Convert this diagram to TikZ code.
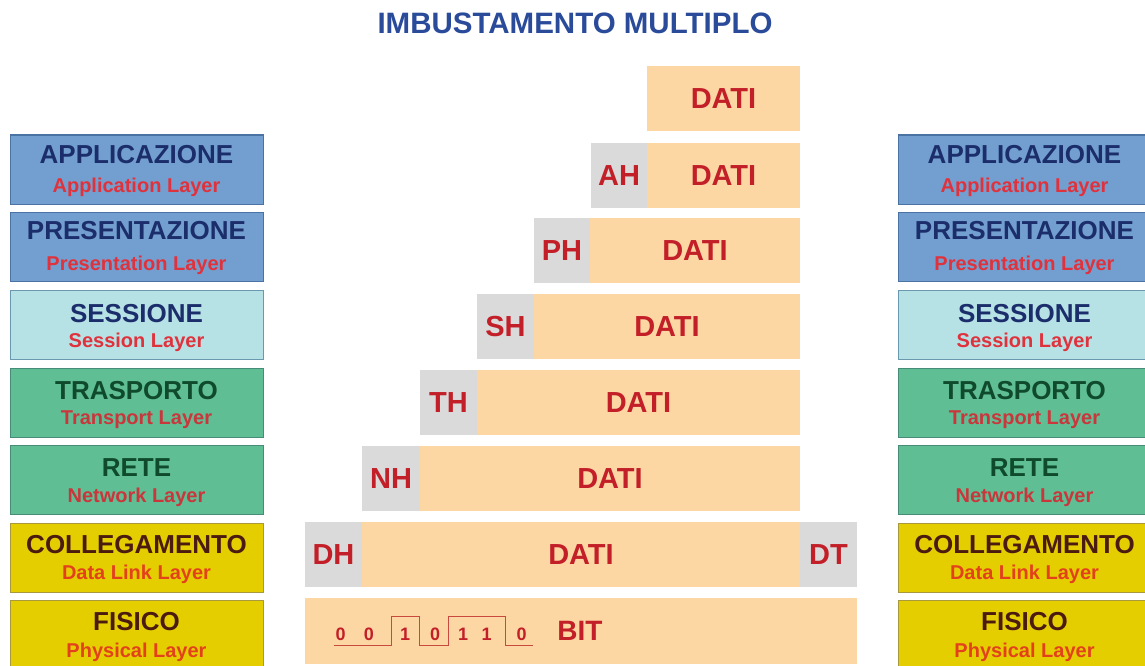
\documentclass[tikz,border=0pt]{standalone}
\usepackage{fontspec}
\setmainfont{Liberation Sans}
\newcommand\myfs[1]{\fontsize{#1}{#1}\selectfont\bfseries}
\definecolor{blueF}{HTML}{729FCF}
\definecolor{blueD}{HTML}{4A72A2}
\definecolor{cyanF}{HTML}{B6E1E5}
\definecolor{cyanD}{HTML}{6A98AE}
\definecolor{greenF}{HTML}{5FBE94}
\definecolor{greenD}{HTML}{468C78}
\definecolor{yelF}{HTML}{E5CE00}
\definecolor{yelD}{HTML}{A8993E}
\definecolor{navy}{HTML}{1B2E6B}
\definecolor{dgreen}{HTML}{0F4A2C}
\definecolor{brown}{HTML}{4A1B0E}
\definecolor{subred}{HTML}{E0323C}
\definecolor{subred2}{HTML}{C9363C}
\definecolor{suborg}{HTML}{E2411C}
\definecolor{peach}{HTML}{FDD7A3}
\definecolor{hgray}{HTML}{DADADA}
\definecolor{dred}{HTML}{C31F28}
\definecolor{wave}{HTML}{C84A3E}
\definecolor{titleblue}{HTML}{2A4A9A}
\tikzset{
  laybox/.style={draw=#1, line width=1pt, anchor=north west, inner sep=0pt, outer sep=0pt,
    minimum width=253pt, minimum height=69pt},
  lblue/.style={laybox=blueD, fill=blueF},
  lcyan/.style={laybox=cyanD, fill=cyanF},
  lgreen/.style={laybox=greenD, fill=greenF},
  lyel/.style={laybox=yelD, fill=yelF},
  mainlbl/.style={anchor=base, inner sep=0pt, font=\myfs{26}, text=#1},
  sublbl/.style={anchor=base, inner sep=0pt, font=\myfs{20}, text=#1},
  cell/.style={anchor=north west, inner sep=0pt, outer sep=0pt, minimum height=65pt,
    font=\myfs{29}, text=dred},
  hdr/.style={cell, fill=hgray},
  dat/.style={cell, fill=peach},
  bitd/.style={anchor=base, inner sep=0pt, font=\myfs{18}, text=dred},
}
\begin{document}
\begin{tikzpicture}[x=1pt,y=-1pt]
\useasboundingbox (0,0) rectangle (1145,666);
\clip (0,0) rectangle (1145,666);
\fill[white] (0,0) rectangle (1145,666);

% title
\node[inner sep=0pt, font=\myfs{29.5}, text=titleblue] (title) at (575,23) {IMBUSTAMENTO MULTIPLO};

% layer stacks
\foreach \side/\x/\cx in {L/10/136.5, R/898/1024.5}{
  \node[lblue] (\side1) at (\x,135) {};
  \node[mainlbl=navy] at (\cx,163) {APPLICAZIONE};
  \node[sublbl=subred] at (\cx,192) {Application Layer};
  \node[lblue] (\side2) at (\x,212) {};
  \node[mainlbl=navy] at (\cx,239) {PRESENTAZIONE};
  \node[sublbl=subred] at (\cx,270) {Presentation Layer};
  \node[lcyan] (\side3) at (\x,290) {};
  \node[mainlbl=navy] at (\cx,322) {SESSIONE};
  \node[sublbl=subred] at (\cx,347) {Session Layer};
  \node[lgreen] (\side4) at (\x,368) {};
  \node[mainlbl=dgreen] at (\cx,399) {TRASPORTO};
  \node[sublbl=subred2] at (\cx,424) {Transport Layer};
  \node[lgreen] (\side5) at (\x,445) {};
  \node[mainlbl=dgreen] at (\cx,476) {RETE};
  \node[sublbl=subred2] at (\cx,502) {Network Layer};
  \node[lyel] (\side6) at (\x,523) {};
  \node[mainlbl=brown] at (\cx,553) {COLLEGAMENTO};
  \node[sublbl=suborg] at (\cx,579) {Data Link Layer};
  \node[lyel] (\side7) at (\x,600) {};
  \node[mainlbl=brown] at (\cx,630) {FISICO};
  \node[sublbl=suborg] at (\cx,657) {Physical Layer};
}

% encapsulation stack
\node[dat, minimum width=153pt] (D1) at (647,66) {DATI};

\node[hdr, minimum width=56pt] (AH) at (591,143) {AH};
\node[dat, minimum width=153pt] (D2) at (647,143) {DATI};

\node[hdr, minimum width=56pt] (PH) at (534,218) {PH};
\node[dat, minimum width=210pt] (D3) at (590,218) {DATI};

\node[hdr, minimum width=57pt] (SH) at (477,294) {SH};
\node[dat, minimum width=266pt] (D4) at (534,294) {DATI};

\node[hdr, minimum width=57pt] (TH) at (420,370) {TH};
\node[dat, minimum width=323pt] (D5) at (477,370) {DATI};

\node[hdr, minimum width=58pt] (NH) at (362,446) {NH};
\node[dat, minimum width=380pt] (D6) at (420,446) {DATI};

\node[hdr, minimum width=57pt] (DH) at (305,522) {DH};
\node[dat, minimum width=438pt] (D7) at (362,522) {DATI};
\node[hdr, minimum width=57pt] (DT) at (800,522) {DT};

\node[dat, minimum width=552pt, minimum height=66pt] (D8) at (305,598) {};
\node[inner sep=0pt, font=\myfs{28}, text=dred] (BIT) at (580,631) {BIT};

% bits and waveform
\foreach \bx/\bv in {340.7/0, 369/0, 405/1, 435/0, 463/1, 486.7/1, 521.7/0}{
  \node[bitd] at (\bx,640) {\bv};
}
\draw[wave, line width=0.8pt] (334,645) -- (391,645) -- (391,616) -- (419.3,616) -- (419.3,645)
  -- (448.3,645) -- (448.3,616) -- (505,616) -- (505,645) -- (533,645);
\end{tikzpicture}
\end{document}
